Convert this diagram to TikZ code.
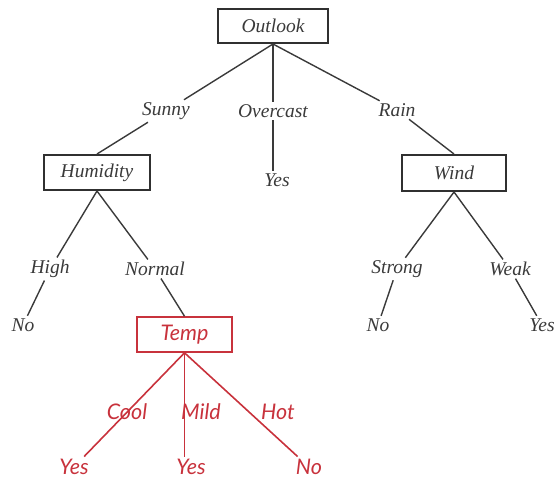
\documentclass[tikz,border=0pt]{standalone}
\usepackage{fontspec}
\setmainfont{Liberation Serif}
\newfontfamily\redfont{Lato}
\definecolor{ink}{HTML}{3A3A3A}
\definecolor{boxline}{HTML}{303030}
\definecolor{redc}{HTML}{C8323C}
\begin{document}
\begin{tikzpicture}[x=1pt,y=-1pt,
  treebox/.style={draw=boxline,line width=2pt,inner sep=0pt,font=\fontsize{19.5}{19.5}\selectfont\itshape,text=ink},
  lab/.style={inner sep=2.5pt,font=\fontsize{19.5}{19.5}\selectfont\itshape,text=ink},
  redbox/.style={draw=redc,line width=1.6pt,inner sep=0pt,font=\fontsize{21.5}{21.5}\selectfont\redfont\itshape,text=redc},
  redlab/.style={inner sep=2.5pt,font=\fontsize{21.5}{21.5}\selectfont\redfont\itshape,text=redc},
  edge/.style={draw=ink,line width=1.4pt},
  redge/.style={draw=redc,line width=1.6pt}]
\useasboundingbox (0,0) rectangle (556,480);
% boxes
\node[treebox,minimum width=110,minimum height=34] (outlook) at (273,26) {Outlook};
\node[treebox,minimum width=106,minimum height=35] (humidity) at (97,172.5) {Humidity};
\node[treebox,minimum width=104,minimum height=36] (wind) at (454,173) {Wind};
\node[redbox,minimum width=95,minimum height=35] (temp) at (184.5,334.5) {Temp};
% labels
\node[lab] (sunny) at (166,111) {Sunny};
\node[lab] (overcast) at (273,111) {Overcast};
\node[lab] (rain) at (397,110) {Rain};
\node[lab] (yes0) at (277,180) {Yes};
\node[lab] (high) at (50,269) {High};
\node[lab] (normal) at (155,269) {Normal};
\node[lab] (no1) at (23,325) {No};
\node[lab] (strong) at (397,269) {Strong};
\node[lab] (weak) at (510,269) {Weak};
\node[lab] (no2) at (378,325) {No};
\node[lab] (yes2) at (542,325) {Yes};
% red labels
\node[redlab] (ya) at (74,467) {Yes};
\node[redlab] (yb) at (191,467) {Yes};
\node[redlab] (nc) at (309,467) {No};
% connectors
\draw[edge] (outlook.south) -- (sunny);
\draw[edge] (outlook.south) -- (outlook.south |- overcast.north);
\draw[edge] (outlook.south) -- (rain);
\draw[edge] (sunny) -- (humidity.north);
\draw[edge] (overcast.south -| outlook.south) -- (yes0.north -| outlook.south);
\draw[edge] (rain) -- (wind.north);
\draw[edge] (humidity.south) -- (high);
\draw[edge] (humidity.south) -- (normal);
\draw[edge] (high) -- (no1);
\draw[edge] (normal) -- (temp.north);
\draw[edge] (wind.south) -- (strong);
\draw[edge] (wind.south) -- (weak);
\draw[edge] (strong) -- (no2);
\draw[edge] (weak) -- (yes2);
\draw[redge] (temp.south) -- (ya);
\draw[redge] (temp.south) -- (temp.south |- yb.north);
\draw[redge] (temp.south) -- (nc);
% labels on red branches
\node[redlab] (cool) at (127,412) {Cool};
\node[redlab] (mild) at (201,412) {Mild};
\node[redlab] (hot) at (278,412) {Hot};
\end{tikzpicture}
\end{document}
